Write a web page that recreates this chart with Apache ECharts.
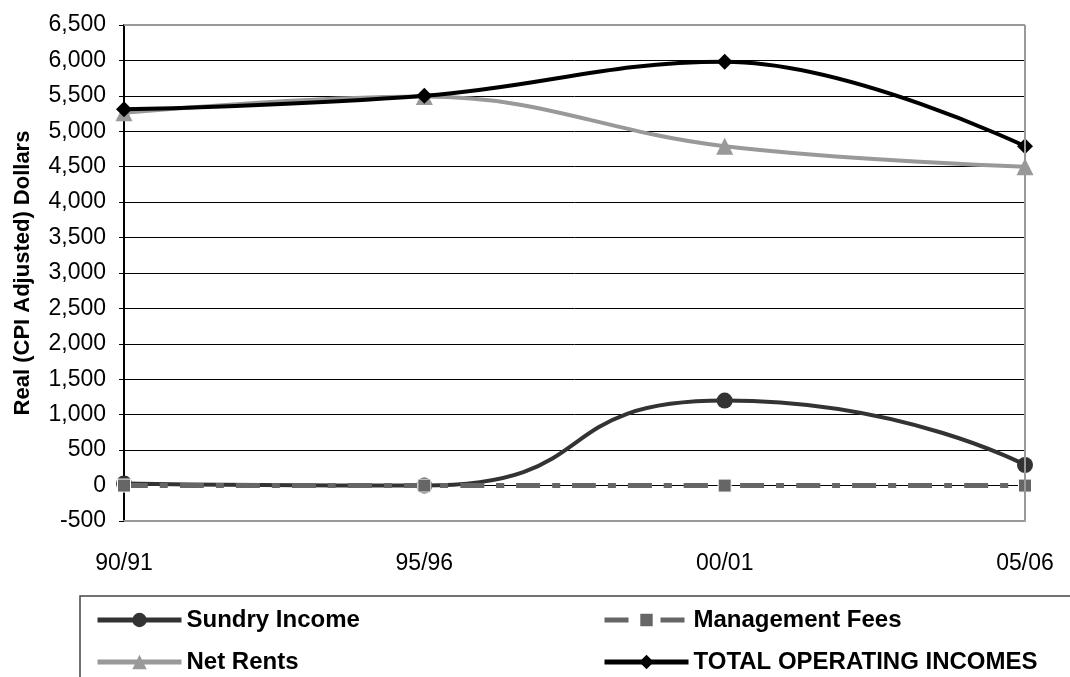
<!DOCTYPE html>
<html><head><meta charset="utf-8">
<script src="https://cdn.jsdelivr.net/npm/echarts@6/dist/echarts.min.js"></script>
<style>html,body{margin:0;padding:0;background:#fff}#c{width:1070px;height:677px}</style>
</head><body><div id="c"></div>
<script>
const categories = ['90/91', '95/96', '00/01', '05/06'];
const sundryIncome = [30, 0, 1200, 290];
const managementFees = [0, 0, 0, 0];
const netRents = [5260, 5490, 4790, 4500];
const totalOperatingIncomes = [5310, 5500, 5980, 4790];
const yTicks = { min: -500, max: 6500, interval: 500 };

const font = 'Liberation Sans, Arial, sans-serif';
const chart = echarts.init(document.getElementById('c'), null, { renderer: 'canvas' });

function legendAt(name, left, top) {
  return {
    data: [name], left: left, top: top, itemWidth: 84, itemHeight: 18, itemGap: 0, padding: 0,
    lineStyle: { width: 5 },
    textStyle: { fontFamily: font, fontSize: 24, fontWeight: 'bold', color: '#000' },
    selectedMode: false
  };
}

chart.setOption({
  animation: false,
  grid: { left: 124, right: 45, top: 25, bottom: 156, containLabel: false },
  graphic: [
    { type: 'rect', z: 100, shape: { x: 80, y: 596, width: 1000, height: 100 }, style: { fill: 'none', stroke: '#444', lineWidth: 1.5 }, silent: true },
    { type: 'line', z: 100, shape: { x1: 124, y1: 25, x2: 1025, y2: 25 }, style: { stroke: '#999', lineWidth: 2 }, silent: true },
    { type: 'line', z: 100, shape: { x1: 1025, y1: 25, x2: 1025, y2: 521 }, style: { stroke: '#999', lineWidth: 2 }, silent: true }
  ],
  legend: [
    legendAt('Sundry Income', 95, 608),
    legendAt('Management Fees', 602, 608),
    legendAt('Net Rents', 95, 650),
    legendAt('TOTAL OPERATING INCOMES', 602, 650)
  ],
  xAxis: {
    type: 'category', data: categories, boundaryGap: false,
    axisLine: { onZero: false, lineStyle: { color: '#999', width: 2 } },
    axisTick: { show: false },
    axisLabel: { fontFamily: font, fontSize: 23, color: '#000', margin: 31 },
    splitLine: { show: false }
  },
  yAxis: {
    type: 'value', min: yTicks.min, max: yTicks.max, interval: yTicks.interval,
    name: 'Real (CPI Adjusted) Dollars', nameLocation: 'middle', nameGap: 90, nameRotate: 90,
    nameTextStyle: { fontFamily: font, fontSize: 22, fontWeight: 'bold', color: '#000' },
    axisLine: { show: true, lineStyle: { color: '#000', width: 2 } },
    axisTick: { show: true, length: 5, lineStyle: { color: '#000' } },
    axisLabel: { fontFamily: font, fontSize: 23, color: '#000', margin: 18,
      formatter: v => v.toLocaleString('en-US') },
    splitLine: { show: true, lineStyle: { color: '#000', width: 1 } }
  },
  series: [
    { name: 'Sundry Income', type: 'line', data: sundryIncome, smooth: 0.6,
      symbol: 'circle', symbolSize: 16, z: 3,
      lineStyle: { color: '#333', width: 4 }, itemStyle: { color: '#333' } },
    { name: 'Management Fees', type: 'line', data: managementFees, smooth: true,
      symbol: 'rect', symbolSize: 13, z: 4,
      lineStyle: { color: '#666', width: 5, type: [24, 12, 8, 12] }, itemStyle: { color: '#666', borderColor: '#fff', borderWidth: 1 } },
    { name: 'Net Rents', type: 'line', data: netRents, smooth: 0.4,
      symbol: 'triangle', symbolSize: 17, z: 2,
      lineStyle: { color: '#999', width: 4 }, itemStyle: { color: '#999' } },
    { name: 'TOTAL OPERATING INCOMES', type: 'line', data: totalOperatingIncomes, smooth: 0.4,
      symbol: 'diamond', symbolSize: 16, z: 5,
      lineStyle: { color: '#000', width: 4 }, itemStyle: { color: '#000' } }
  ]
});
</script>
</body></html>
